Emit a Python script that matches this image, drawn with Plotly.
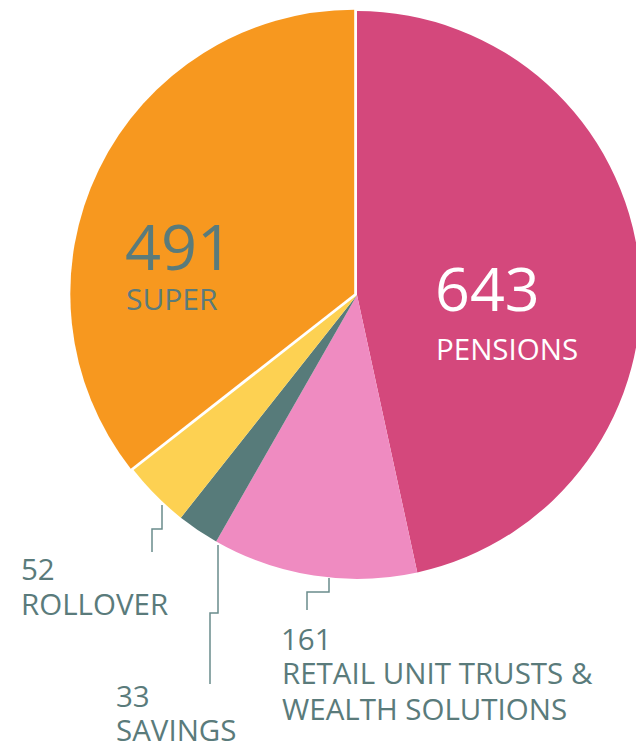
import plotly.graph_objects as go

# ---- data ----
labels = ["PENSIONS", "RETAIL UNIT TRUSTS & WEALTH SOLUTIONS", "SAVINGS", "ROLLOVER", "SUPER"]
values = [643, 161, 33, 52, 491]
colors = ["#D4487C", "#EF8BC1", "#577B7A", "#FDD152", "#F7981F"]
pulls = [0, 0, 0, 0, 0.011]

W, H = 644, 744
OFF = 8  # page body margin
TEXT = "#5A7B7B"
FONT = "Open Sans"


def px(x):
    return (x - OFF) / W


def py(y):
    return 1 - (y - OFF) / H


def clamp(v):
    return min(1.0, max(0.0, v))


cx, cy, half = 357, 295, 287
fig = go.Figure(go.Pie(
    labels=labels, values=values, sort=False, direction="clockwise", rotation=0,
    marker=dict(colors=colors, line=dict(width=0)), pull=pulls,
    textinfo="none", hoverinfo="label+value",
    domain=dict(x=[clamp(px(cx - half)), clamp(px(cx + half))],
                y=[clamp(py(cy + half)), clamp(py(cy - half))]),
))

annots = []


def add(text, x, ymid, size, color=TEXT):
    annots.append(dict(text=text, x=px(x), y=py(ymid), xref="paper", yref="paper",
                       xanchor="left", yanchor="middle", showarrow=False,
                       font=dict(family=FONT, size=size, color=color)))


# inside labels
add(str(values[0]), 433, 287, 61, "white")
add(labels[0], 434, 348, 29.5, "white")
add(str(values[4]), 123, 245, 63)
add(labels[4], 124, 298, 30)
# outside labels
add(str(values[3]), 19, 568, 29.5)
add(labels[3], 19, 603, 29.5)
add(str(values[2]), 114, 695, 29.5)
add(labels[2], 114, 729, 29.5)
add(str(values[1]), 279, 638, 29.5)
add("RETAIL UNIT TRUSTS &", 280, 672, 29.5)
add("WEALTH SOLUTIONS", 280, 708, 29.5)

shapes = []


def leader(points):
    path = "M " + " L ".join(f"{px(x)},{py(y)}" for x, y in points)
    shapes.append(dict(type="path", path=path, xref="paper", yref="paper",
                       line=dict(color="#6A8C8C", width=1.5)))


leader([(162, 505), (162, 529), (152, 529), (152, 552)])
leader([(218, 545), (218, 613), (210, 613), (210, 684)])
leader([(329, 578), (329, 592), (307, 592), (307, 610)])

fig.update_layout(width=W, height=H, margin=dict(l=0, r=0, t=0, b=0),
                  showlegend=False, paper_bgcolor="white", plot_bgcolor="white",
                  annotations=annots, shapes=shapes)

fig.write_html("out.html")
